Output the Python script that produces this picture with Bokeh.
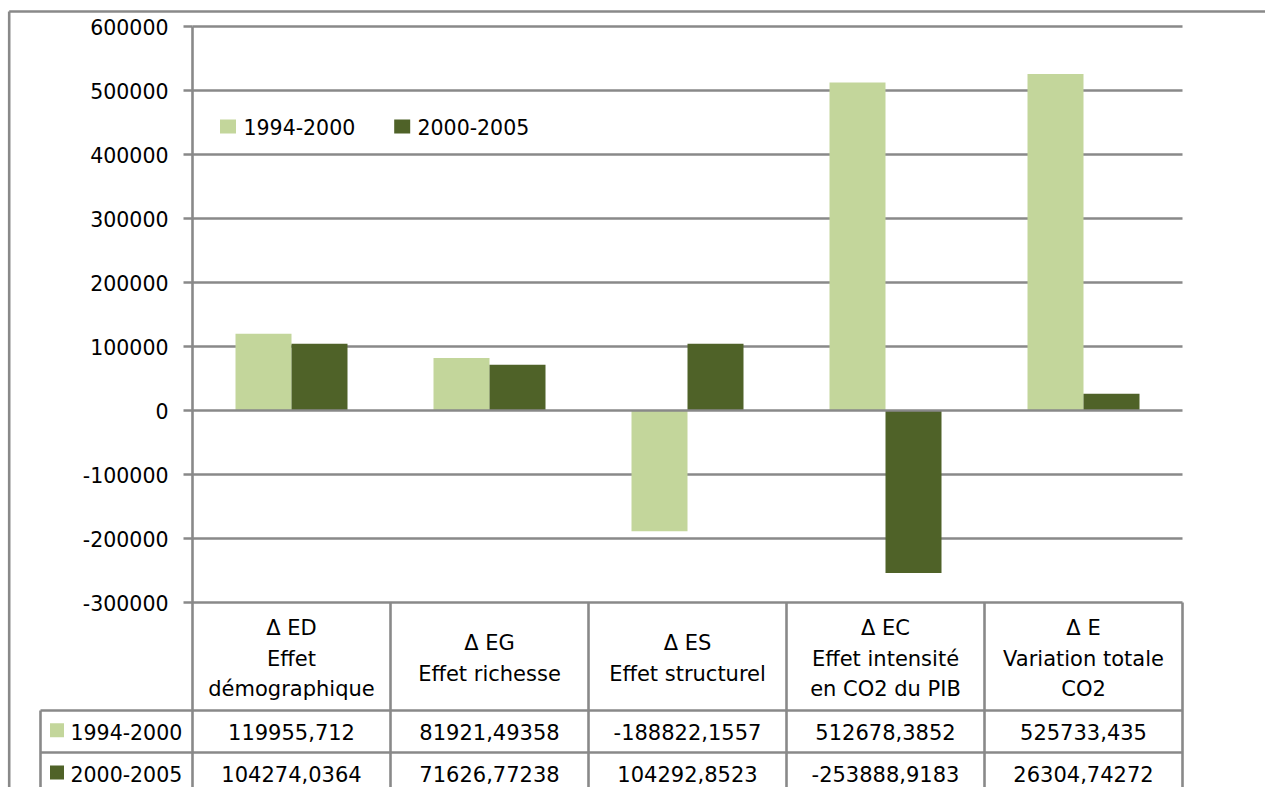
from bokeh.plotting import figure
from bokeh.models import Range1d
from bokeh.embed import file_html
from bokeh.resources import INLINE
from bokeh.core.properties import value

# ---------------- data ----------------
category_headers = [
    ["Δ ED", "Effet", "démographique"],
    ["Δ EG", "Effet richesse"],
    ["Δ ES", "Effet structurel"],
    ["Δ EC", "Effet intensité", "en CO2 du PIB"],
    ["Δ E", "Variation totale", "CO2"],
]
series_names = ["1994-2000", "2000-2005"]
values_1994_2000 = [119955.712, 81921.49358, -188822.1557, 512678.3852, 525733.435]
values_2000_2005 = [104274.0364, 71626.77238, 104292.8523, -253888.9183, 26304.74272]
y_ticks = [600000, 500000, 400000, 300000, 200000, 100000, 0, -100000, -200000, -300000]
y_tick_labels = [str(t) for t in y_ticks]

# ---------------- styles / layout ----------------
LIGHT = "#C3D69B"
DARK = "#4F6228"
GRAY = "#898989"
FONT = value("DejaVu Sans")
FS = "20.5px"
FS_TABLE = "21px"
LW = 2.6

W, H = 1265, 787
PLOT_LEFT = 192          # canvas px of first category edge
CAT_W = 198              # px per category
Y_TOP_PX = 26            # canvas px of 600000
PX_PER_UNIT = 64 / 100000.0
BAR_W = 56 / CAT_W

y_max = 600000 + Y_TOP_PX / PX_PER_UNIT
y_min = 600000 - (H - Y_TOP_PX) / PX_PER_UNIT

p = figure(width=W, height=H, output_backend="svg", toolbar_location=None,
           x_range=Range1d(-PLOT_LEFT / CAT_W, (W - PLOT_LEFT) / CAT_W),
           y_range=Range1d(y_min, y_max),
           x_axis_location=None, y_axis_location=None, min_border=0)
p.extra_x_ranges = {"px": Range1d(0, W)}
p.extra_y_ranges = {"py": Range1d(H, 0)}
p.grid.visible = False
p.outline_line_color = None
p.background_fill_color = "white"
p.border_fill_color = "white"

n = len(category_headers)
idx = list(range(n))
ymin_axis = min(y_ticks)
ymax_axis = max(y_ticks)

# outer chart border (top & left)
p.segment(x0=[8.7, 8.7], y0=[11, 11], x1=[W, 8.7], y1=[11, H], line_color=GRAY, line_width=LW,
          x_range_name="px", y_range_name="py")

# gridlines (behind bars, except zero line)
grid_vals = [t for t in y_ticks if t != 0]
p.segment(x0=[0] * len(grid_vals), y0=grid_vals, x1=[n] * len(grid_vals), y1=grid_vals,
          line_color=GRAY, line_width=LW)

# bars
x_light = [i + 0.5 - BAR_W / 2 for i in idx]
x_dark = [i + 0.5 + BAR_W / 2 for i in idx]
p.vbar(x=x_light, top=values_1994_2000, bottom=0, width=BAR_W, fill_color=LIGHT, line_color=None)
p.vbar(x=x_dark, top=values_2000_2005, bottom=0, width=BAR_W, fill_color=DARK, line_color=None)

# zero line on top
p.segment(x0=[0], y0=[0], x1=[n], y1=[0], line_color=GRAY, line_width=LW)

# y axis line (continues down through table)
p.segment(x0=[0], y0=[ymax_axis], x1=[0], y1=[y_min], line_color=GRAY, line_width=LW)
# tick marks
p.segment(x0=[-9 / CAT_W] * len(y_ticks), y0=y_ticks, x1=[0] * len(y_ticks), y1=y_ticks,
          line_color=GRAY, line_width=LW)
# tick labels
p.text(x=[-24 / CAT_W] * len(y_ticks), y=y_ticks, text=y_tick_labels,
       text_font=FONT, text_font_size=FS, text_align="right", text_baseline="middle",
       text_color="black")

# table vertical lines at category boundaries
p.segment(x0=[i + 1 for i in idx], y0=[ymin_axis] * n, x1=[i + 1 for i in idx], y1=[y_min] * n,
          line_color=GRAY, line_width=LW)
# table left column & row lines (canvas px)
ROW1_TOP, ROW2_TOP = 710, 752
TABLE_LEFT = 40
TABLE_RIGHT = PLOT_LEFT + n * CAT_W
p.segment(x0=[TABLE_LEFT, TABLE_LEFT, TABLE_LEFT], y0=[ROW1_TOP, ROW1_TOP, ROW2_TOP],
          x1=[TABLE_LEFT, TABLE_RIGHT, TABLE_RIGHT], y1=[H, ROW1_TOP, ROW2_TOP],
          line_color=GRAY, line_width=LW, x_range_name="px", y_range_name="py")

# header texts
HEADER_CENTER = 658
LINE_STEP = 30.5
hx, hy, ht = [], [], []
for i, lines in enumerate(category_headers):
    m = len(lines)
    for k, t in enumerate(lines):
        hx.append(i + 0.5)
        hy.append(HEADER_CENTER + (k - (m - 1) / 2) * LINE_STEP)
        ht.append(t)
p.text(x=hx, y=hy, text=ht, y_range_name="py", text_font=FONT, text_font_size=FS_TABLE,
       text_align="center", text_baseline="middle", text_color="black")

# table values
ROW_CENTERS = [731, 773]
for row_vals, yc in zip([values_1994_2000, values_2000_2005], ROW_CENTERS):
    labels = [repr(v).replace(".", ",") for v in row_vals]
    p.text(x=[i + 0.5 for i in idx], y=[yc] * n, text=labels, y_range_name="py",
           text_font=FONT, text_font_size=FS_TABLE, text_align="center", text_baseline="middle",
           text_color="black")

# table row legend keys and names
p.rect(x=[56.5, 56.5], y=[729.7, 772], width=14, height=14, fill_color=[LIGHT, DARK],
       line_color=None, x_range_name="px", y_range_name="py")
p.text(x=[70, 70], y=ROW_CENTERS, text=series_names, x_range_name="px", y_range_name="py",
       text_font=FONT, text_font_size=FS, text_align="left", text_baseline="middle",
       text_color="black")

# chart legend
p.rect(x=[227.5, 401.7], y=[126, 126], width=16, height=14, fill_color=[LIGHT, DARK],
       line_color=None, x_range_name="px", y_range_name="py")
p.text(x=[243, 417], y=[126, 126], text=series_names, x_range_name="px", y_range_name="py",
       text_font=FONT, text_font_size=FS, text_align="left", text_baseline="middle",
       text_color="black")

open("out.html", "w").write(file_html(p, INLINE))
